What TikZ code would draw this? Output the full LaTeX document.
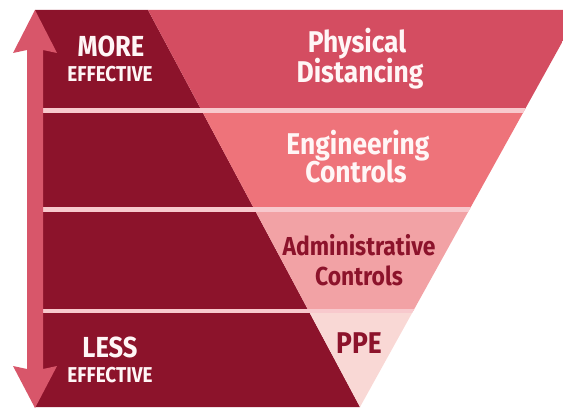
\documentclass[tikz,border=0pt]{standalone}
\usepackage{fontspec}
\newfontfamily\lbl[FakeStretch=0.88]{Fira Sans}
\definecolor{darkred}{HTML}{8C132B}
\definecolor{arrowred}{HTML}{D8566A}
\definecolor{bandA}{HTML}{D44D61}
\definecolor{bandB}{HTML}{EE737A}
\definecolor{bandC}{HTML}{F2A2A5}
\definecolor{bandD}{HTML}{F9D8D5}
\definecolor{sepcol}{HTML}{F8C9CD}
\definecolor{lighttext}{HTML}{FFF6F6}
\tikzset{
  txt/.style={inner sep=0pt, anchor=base, font=\lbl\bfseries},
  big/.style={txt, font=\lbl\bfseries\fontsize{30}{34}\selectfont},
  side/.style={txt, font=\lbl\bfseries\fontsize{29}{33}\selectfont},
  small/.style={txt, font=\lbl\bfseries\fontsize{21.5}{25}\selectfont},
  adm/.style={txt, font=\lbl\bfseries\fontsize{26}{30}\selectfont},
  ppe/.style={txt, font=\lbl\bfseries\fontsize{30}{34}\selectfont},
  sepline/.style={draw=sepcol, line width=4.5pt},
}
\begin{document}
\begin{tikzpicture}[x=1pt,y=-1pt]
\useasboundingbox (0,0) rectangle (563,409);
% key coordinates
\coordinate (TL) at (148,10);
\coordinate (TR) at (580,10);
\coordinate (AP) at (360,407);
% dark background
\fill[darkred] (35,10) -- (TL) -- (AP) -- (35,407) -- cycle;
% triangle bands
\begin{scope}
  \clip (TL) -- (TR) -- (AP) -- cycle;
  \fill[bandA] (100,0) rectangle (600,110.5);
  \fill[bandB] (100,110.5) rectangle (600,209.5);
  \fill[bandC] (100,209.5) rectangle (600,311);
  \fill[bandD] (100,311) rectangle (600,420);
\end{scope}
% separators
\begin{scope}
  \clip (35,10) -- (TR) -- (AP) -- (35,407) -- cycle;
  \draw[sepline] (43,110.5) -- (600,110.5);
  \draw[sepline] (43,209.5) -- (600,209.5);
  \draw[sepline] (43,311) -- (600,311);
\end{scope}
% double arrow
\fill[arrowred] (35,10) -- (57,53) -- (43,50) -- (43,369) -- (57,366) -- (35,408)
  -- (13,366) -- (27,369) -- (27,50) -- (13,53) -- cycle;
% labels
\node[side, text=lighttext] (more) at (111,57) {MORE};
\node[small, text=lighttext] (eff1) at (110,82) {EFFECTIVE};
\node[side, text=lighttext] (less) at (110,357) {LESS};
\node[small, text=lighttext] (eff2) at (110,382) {EFFECTIVE};
\node[big, text=lighttext] (phys) at (357,53) {Physical};
\node[big, text=lighttext] (dist) at (360,83) {Distancing};
\node[big, text=lighttext] (eng) at (358,155) {Engineering};
\node[big, text=lighttext] (con1) at (356,183) {Controls};
\node[adm, text=darkred] (adm) at (359,255) {Administrative};
\node[adm, text=darkred] (con2) at (359,285) {Controls};
\node[ppe, text=darkred] (ppe) at (359,353) {PPE};
\end{tikzpicture}
\end{document}
